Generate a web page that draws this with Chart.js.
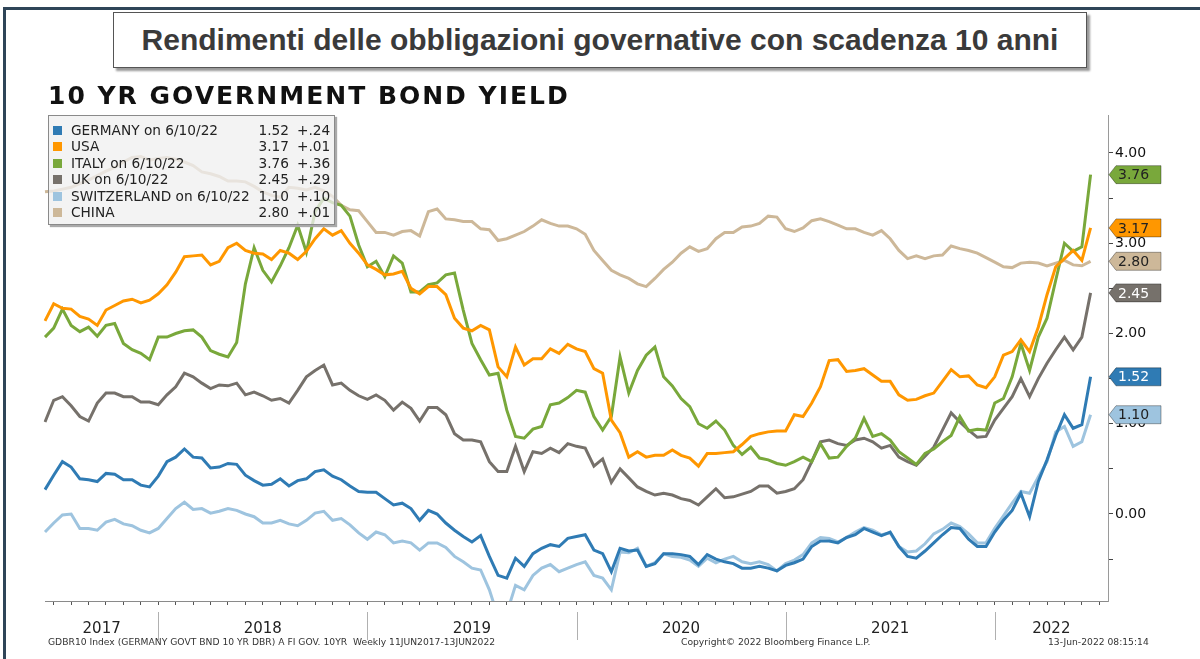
<!DOCTYPE html>
<html>
<head>
<meta charset="utf-8">
<script src="https://cdn.jsdelivr.net/npm/chart.js@4.4.0/dist/chart.umd.min.js"></script>
<style>
  html, body { margin: 0; padding: 0; background: #fff; }
  #wrap { position: relative; width: 1200px; height: 659px; overflow: hidden; font-family: "DejaVu Sans", sans-serif; }
  #frameTop { position: absolute; left: 3px; top: 7px; width: 1197px; height: 3px; background: #2f4558; }
  #frameLeft { position: absolute; left: 3px; top: 7px; width: 3px; height: 652px; background: #2f4558; }
  #titleBox { position: absolute; left: 113px; top: 12px; width: 972px; height: 54px; border: 1px solid #555; background: #fff;
    box-shadow: 3px 3px 2px #999; display: flex; align-items: center; justify-content: center;
    font-family: "Liberation Sans", sans-serif; font-weight: bold; font-size: 30px; color: #3a3a3a; }
  #chartTitle { position: absolute; left: 48px; top: 81px; font-weight: bold; font-size: 25px; letter-spacing: 2px; color: #111; }
  canvas { position: absolute; left: 0; top: 0; }
  #legend { position: absolute; left: 48px; top: 115px; width: 285px; height: 108px; background: rgba(240,240,240,0.78);
    border: 1px solid #8a8a8a; box-shadow: 2px 2px 1px #aaa; font-size: 13.7px; color: #222; }
  .row { position: absolute; left: 0; width: 100%; height: 16px; line-height: 16px; white-space: nowrap; }
  .sq { position: absolute; left: 4px; top: 4px; width: 9px; height: 9px; }
  .nm { position: absolute; left: 22px; }
  .vl { position: absolute; right: 45px; }
  .ch { position: absolute; left: 248px; }
  .foot { position: absolute; top: 636px; font-size: 9.2px; color: #333; white-space: nowrap; }
</style>
</head>
<body>
<div id="wrap">
  <div id="frameTop"></div>
  <div id="frameLeft"></div>
  <div id="titleBox">Rendimenti delle obbligazioni governative con scadenza 10 anni</div>
  <canvas id="bondChart" width="1200" height="659"></canvas>
  <div id="chartTitle">10 YR GOVERNMENT BOND YIELD</div>
  <div id="legend"></div>
  <div class="foot" style="left:48px">GDBR10 Index (GERMANY GOVT BND 10 YR DBR) A FI GOV. 10YR&nbsp; Weekly 11JUN2017-13JUN2022</div>
  <div class="foot" style="left:681px">Copyright© 2022 Bloomberg Finance L.P.</div>
  <div class="foot" style="left:1048px">13-Jun-2022 08:15:14</div>
</div>
<script>
// semimonthly sample dates (last point is the 6/10/22 close, two empty slots pad the right edge)
const dates = [
  '2017-06-15','2017-07-01','2017-07-15','2017-08-01','2017-08-15','2017-09-01','2017-09-15','2017-10-01','2017-10-15','2017-11-01','2017-11-15','2017-12-01','2017-12-15',
  '2018-01-01','2018-01-15','2018-02-01','2018-02-15','2018-03-01','2018-03-15','2018-04-01','2018-04-15','2018-05-01','2018-05-15','2018-06-01','2018-06-15',
  '2018-07-01','2018-07-15','2018-08-01','2018-08-15','2018-09-01','2018-09-15','2018-10-01','2018-10-15','2018-11-01','2018-11-15','2018-12-01','2018-12-15',
  '2019-01-01','2019-01-15','2019-02-01','2019-02-15','2019-03-01','2019-03-15','2019-04-01','2019-04-15','2019-05-01','2019-05-15','2019-06-01','2019-06-15',
  '2019-07-01','2019-07-15','2019-08-01','2019-08-15','2019-09-01','2019-09-15','2019-10-01','2019-10-15','2019-11-01','2019-11-15','2019-12-01','2019-12-15',
  '2020-01-01','2020-01-15','2020-02-01','2020-02-15','2020-03-01','2020-03-15','2020-04-01','2020-04-15','2020-05-01','2020-05-15','2020-06-01','2020-06-15',
  '2020-07-01','2020-07-15','2020-08-01','2020-08-15','2020-09-01','2020-09-15','2020-10-01','2020-10-15','2020-11-01','2020-11-15','2020-12-01','2020-12-15',
  '2021-01-01','2021-01-15','2021-02-01','2021-02-15','2021-03-01','2021-03-15','2021-04-01','2021-04-15','2021-05-01','2021-05-15','2021-06-01','2021-06-15',
  '2021-07-01','2021-07-15','2021-08-01','2021-08-15','2021-09-01','2021-09-15','2021-10-01','2021-10-15','2021-11-01','2021-11-15','2021-12-01','2021-12-15',
  '2022-01-01','2022-01-15','2022-02-01','2022-02-15','2022-03-01','2022-03-15','2022-04-01','2022-04-15','2022-05-01','2022-05-15','2022-06-01','2022-06-10',
  '2022-07-01','2022-07-15'
];
const yearStarts = ['2018-01-01','2019-01-01','2020-01-01','2021-01-01','2022-01-01'];
const yearLabels = ['2017','2018','2019','2020','2021','2022'];

const germany = [
  0.27,0.43,0.58,0.52,0.39,0.38,0.36,0.45,0.44,0.38,0.38,0.32,0.30,0.42,0.58,0.63,0.72,0.63,0.62,0.51,0.52,
  0.56,0.55,0.43,0.37,0.32,0.33,0.39,0.31,0.37,0.39,0.47,0.49,0.42,0.38,0.31,0.25,0.24,0.24,0.17,0.10,
  0.12,0.06,-0.07,0.04,0.00,-0.10,-0.18,-0.25,-0.31,-0.24,-0.47,-0.68,-0.71,-0.49,-0.58,-0.44,-0.38,-0.34,-0.36,-0.27,
  -0.25,-0.23,-0.40,-0.44,-0.64,-0.38,-0.41,-0.40,-0.58,-0.55,-0.44,-0.44,-0.45,-0.47,-0.56,-0.45,-0.50,-0.53,-0.55,-0.60,
  -0.60,-0.58,-0.60,-0.63,-0.57,-0.54,-0.50,-0.36,-0.30,-0.30,-0.32,-0.26,-0.23,-0.16,-0.20,-0.24,-0.20,-0.36,-0.47,-0.49,
  -0.41,-0.32,-0.23,-0.15,-0.16,-0.28,-0.36,-0.36,-0.20,-0.07,0.04,0.23,-0.03,0.36,0.60,0.87,1.10,0.95,0.99,1.52
];
const usa = [
  2.14,2.33,2.28,2.27,2.19,2.16,2.09,2.26,2.31,2.36,2.38,2.34,2.37,2.44,2.54,2.68,2.85,2.86,2.87,2.76,2.80,
  2.95,3.00,2.92,2.89,2.88,2.82,2.92,2.89,2.82,2.91,3.05,3.16,3.09,3.14,3.00,2.89,2.76,2.71,2.65,2.66,
  2.69,2.50,2.44,2.52,2.52,2.43,2.17,2.06,2.03,2.09,2.04,1.63,1.52,1.85,1.65,1.72,1.72,1.83,1.78,1.88,
  1.83,1.80,1.61,1.56,1.04,0.90,0.63,0.69,0.63,0.65,0.65,0.71,0.65,0.62,0.53,0.67,0.67,0.68,0.69,0.77,
  0.86,0.89,0.91,0.92,0.92,1.10,1.08,1.23,1.41,1.70,1.71,1.58,1.59,1.61,1.54,1.47,1.47,1.32,1.26,1.27,
  1.31,1.34,1.47,1.60,1.52,1.53,1.43,1.40,1.52,1.76,1.80,1.93,1.80,2.07,2.43,2.74,2.83,2.92,2.81,3.17
];
const italy = [
  1.96,2.06,2.27,2.09,2.02,2.07,1.97,2.09,2.11,1.89,1.82,1.78,1.71,1.96,1.96,2.00,2.03,2.04,1.96,1.81,1.77,
  1.74,1.90,2.55,2.95,2.70,2.57,2.75,2.95,3.20,2.90,3.35,3.50,3.45,3.42,3.30,2.98,2.74,2.80,2.63,2.86,
  2.78,2.46,2.46,2.54,2.56,2.65,2.67,2.26,1.89,1.71,1.54,1.56,1.15,0.86,0.84,0.94,0.97,1.21,1.23,1.29,
  1.37,1.35,1.08,0.93,1.08,1.74,1.34,1.59,1.76,1.85,1.52,1.42,1.28,1.19,1.00,0.95,1.03,0.93,0.76,0.66,
  0.74,0.62,0.60,0.56,0.54,0.58,0.63,0.58,0.78,0.62,0.63,0.75,0.84,1.06,0.86,0.89,0.82,0.69,0.62,0.55,
  0.67,0.72,0.80,0.87,1.08,0.92,0.94,0.93,1.23,1.28,1.52,1.89,1.59,1.96,2.17,2.59,3.00,2.91,2.96,3.76
];
const uk = [
  1.02,1.26,1.30,1.20,1.08,1.03,1.23,1.34,1.34,1.30,1.30,1.24,1.24,1.21,1.32,1.41,1.56,1.52,1.45,1.39,1.43,
  1.42,1.45,1.32,1.35,1.31,1.26,1.28,1.23,1.37,1.52,1.59,1.65,1.43,1.45,1.37,1.31,1.27,1.32,1.26,1.15,
  1.24,1.17,1.03,1.18,1.18,1.10,0.89,0.82,0.82,0.80,0.58,0.47,0.47,0.75,0.47,0.69,0.67,0.73,0.68,0.78,
  0.75,0.73,0.53,0.61,0.35,0.50,0.40,0.30,0.25,0.21,0.23,0.21,0.17,0.15,0.10,0.19,0.28,0.18,0.19,0.22,
  0.25,0.31,0.31,0.23,0.25,0.28,0.38,0.58,0.80,0.82,0.78,0.76,0.82,0.84,0.80,0.73,0.76,0.63,0.58,0.54,
  0.64,0.74,0.93,1.12,1.02,0.93,0.85,0.86,1.04,1.17,1.30,1.50,1.30,1.50,1.67,1.82,1.96,1.82,1.96,2.45
];
const switzerland = [
  -0.20,-0.10,-0.01,0.00,-0.16,-0.16,-0.18,-0.09,-0.06,-0.11,-0.13,-0.18,-0.21,-0.16,-0.05,0.06,0.13,0.05,0.06,0.01,0.03,
  0.06,0.04,0.00,-0.03,-0.10,-0.10,-0.07,-0.11,-0.13,-0.07,0.01,0.03,-0.07,-0.05,-0.12,-0.21,-0.28,-0.20,-0.23,-0.32,
  -0.30,-0.32,-0.40,-0.32,-0.32,-0.37,-0.47,-0.53,-0.60,-0.62,-0.84,-1.14,-1.10,-0.79,-0.84,-0.68,-0.60,-0.56,-0.64,-0.60,
  -0.56,-0.53,-0.68,-0.71,-0.84,-0.42,-0.43,-0.38,-0.58,-0.54,-0.44,-0.47,-0.48,-0.51,-0.58,-0.49,-0.54,-0.50,-0.47,-0.53,
  -0.55,-0.53,-0.56,-0.63,-0.55,-0.51,-0.45,-0.32,-0.26,-0.27,-0.31,-0.26,-0.20,-0.15,-0.18,-0.23,-0.21,-0.36,-0.42,-0.41,
  -0.33,-0.22,-0.17,-0.10,-0.14,-0.22,-0.32,-0.32,-0.16,-0.02,0.12,0.25,0.23,0.41,0.58,0.91,0.97,0.75,0.80,1.10
];
const china = [
  3.57,3.58,3.60,3.62,3.66,3.70,3.75,3.80,3.84,3.90,3.95,3.96,3.92,3.94,3.95,3.93,3.90,3.86,3.79,3.77,3.74,
  3.69,3.69,3.68,3.63,3.57,3.53,3.51,3.62,3.61,3.59,3.62,3.58,3.52,3.42,3.37,3.36,3.24,3.12,3.12,3.09,
  3.13,3.14,3.08,3.35,3.38,3.27,3.26,3.24,3.24,3.16,3.15,3.03,3.05,3.09,3.13,3.19,3.26,3.22,3.19,3.19,
  3.16,3.10,2.92,2.81,2.70,2.65,2.61,2.55,2.52,2.61,2.71,2.79,2.89,2.96,2.91,2.94,3.05,3.12,3.12,3.18,
  3.19,3.22,3.30,3.29,3.16,3.13,3.17,3.25,3.27,3.24,3.20,3.16,3.16,3.12,3.09,3.14,3.05,2.92,2.83,2.86,
  2.83,2.86,2.87,2.97,2.94,2.92,2.89,2.84,2.79,2.74,2.73,2.78,2.79,2.78,2.75,2.78,2.81,2.76,2.75,2.80
];

const seriesNames = ['GERMANY on 6/10/22', 'USA', 'ITALY on 6/10/22', 'UK on 6/10/22', 'SWITZERLAND on 6/10/22', 'CHINA'];
const seriesData = [germany, usa, italy, uk, switzerland, china];
const lastValues = ['1.52', '3.17', '3.76', '2.45', '1.10', '2.80'];
const changes = ['+.24', '+.01', '+.36', '+.29', '+.10', '+.01'];
const colors = ['#2f7bb4', '#ff9700', '#79a83b', '#76716b', '#9ec4df', '#cdb899'];
const tagText = ['#fff', '#222', '#222', '#fff', '#222', '#222'];

// legend box
const legendEl = document.getElementById('legend');
seriesNames.forEach((n, i) => {
  const r = document.createElement('div');
  r.className = 'row';
  r.style.top = (6 + i * 16.4) + 'px';
  r.innerHTML = '<span class="sq" style="background:' + colors[i] + '"></span><span class="nm">' + n +
    '</span><span class="vl">' + lastValues[i] + '</span><span class="ch">' + changes[i] + '</span>';
  legendEl.appendChild(r);
});

const extras = {
  id: 'extras',
  afterDraw(chart) {
    const { ctx, chartArea, scales: { x, y } } = chart;
    ctx.save();
    // year separators and labels below the axis
    const edges = [chartArea.left].concat(yearStarts.map(d => x.getPixelForValue(dates.indexOf(d)))).concat([chartArea.right]);
    ctx.strokeStyle = '#b0b0b0';
    ctx.lineWidth = 1;
    yearStarts.forEach((d, i) => {
      const px = Math.round(edges[i + 1]) + 0.5;
      ctx.beginPath();
      ctx.moveTo(px, chartArea.bottom + 11);
      ctx.lineTo(px, chartArea.bottom + 39);
      ctx.stroke();
    });
    ctx.fillStyle = '#222';
    ctx.font = '15px "DejaVu Sans"';
    ctx.textAlign = 'center';
    ctx.textBaseline = 'middle';
    yearLabels.forEach((t, i) => ctx.fillText(t, (edges[i] + edges[i + 1]) / 2, chartArea.bottom + 28));

    // value tags on the right axis
    ctx.font = '14px "DejaVu Sans"';
    ctx.textAlign = 'left';
    seriesData.forEach((s, i) => {
      const py = y.getPixelForValue(s[s.length - 1]);
      const x0 = chartArea.right + 1;
      ctx.beginPath();
      ctx.moveTo(x0, py);
      ctx.lineTo(x0 + 7, py - 9);
      ctx.lineTo(x0 + 52, py - 9);
      ctx.lineTo(x0 + 52, py + 9);
      ctx.lineTo(x0 + 7, py + 9);
      ctx.closePath();
      ctx.fillStyle = colors[i];
      ctx.fill();
      ctx.strokeStyle = 'rgba(0,0,0,0.35)';
      ctx.stroke();
      ctx.fillStyle = tagText[i];
      ctx.fillText(lastValues[i], x0 + 9, py + 1);
    });
    ctx.restore();
  }
};

new Chart(document.getElementById('bondChart').getContext('2d'), {
  type: 'line',
  data: {
    labels: dates,
    datasets: seriesData.map((s, i) => ({
      label: seriesNames[i],
      data: s,
      borderColor: colors[i],
      borderWidth: 3,
      pointRadius: 0,
      tension: 0,
      fill: false
    }))
  },
  options: {
    responsive: false,
    animation: false,
    devicePixelRatio: 1,
    layout: { padding: { left: 45, top: 115, right: 0, bottom: 0 } },
    plugins: { legend: { display: false }, tooltip: { enabled: false } },
    scales: {
      x: {
        type: 'category',
        offset: false,
        afterFit: s => { s.height = 58; },
        ticks: { display: false },
        grid: {
          drawOnChartArea: false,
          tickLength: 4,
          color: c => (c.index % 2 === 1 ? '#555' : 'rgba(0,0,0,0)')
        },
        border: { display: true, color: '#8a8a8a', width: 1 }
      },
      y: {
        position: 'right',
        min: -0.964,
        max: 4.421,
        afterFit: s => { s.width = 92; },
        ticks: {
          stepSize: 0.5,
          includeBounds: false,
          padding: 2,
          color: '#111',
          font: { family: 'DejaVu Sans', size: 14 },
          callback: v => (Math.abs(v - Math.round(v)) < 1e-6 ? v.toFixed(2) : '')
        },
        grid: { drawOnChartArea: false, tickLength: 5, color: '#444' },
        border: { display: true, color: '#9a9a9a', width: 1 }
      }
    }
  },
  plugins: [extras]
});
</script>
</body>
</html>
